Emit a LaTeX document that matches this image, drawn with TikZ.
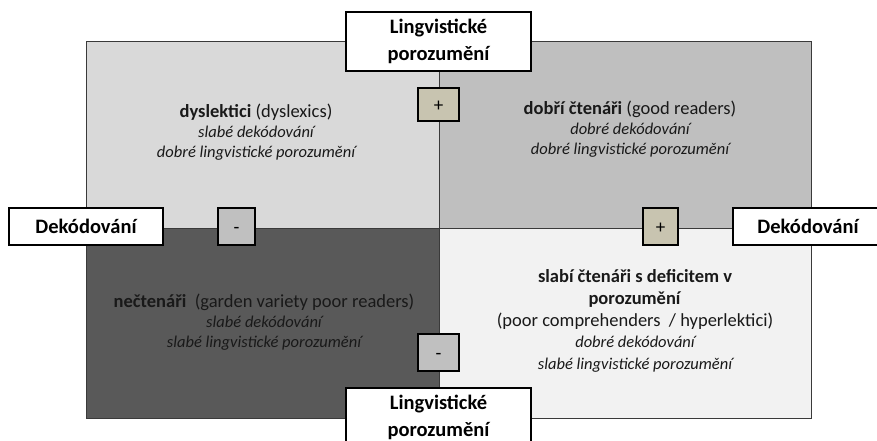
\documentclass[tikz,border=0pt]{standalone}
\usepackage{fontspec}
\setmainfont{Carlito}
\definecolor{qtl}{HTML}{D9D9D9}
\definecolor{qtr}{HTML}{BFBFBF}
\definecolor{qbl}{HTML}{595959}
\definecolor{qbr}{HTML}{F2F2F2}
\definecolor{tan}{HTML}{C8C4B0}
\definecolor{signgray}{HTML}{C0C0C0}
\definecolor{qline}{HTML}{3A3A3A}
\newcommand{\itl}[1]{{\fontsize{16.5}{20}\selectfont\itshape #1}}
\begin{document}
\begin{tikzpicture}[x=1pt,y=-1pt,
  quad/.style={draw=qline, line width=1pt, anchor=north west, inner sep=0pt},
  axislabel/.style={draw=black, line width=1.6pt, fill=white, inner sep=0pt,
    font=\bfseries\fontsize{20.5}{27}\selectfont, align=center},
  signbox/.style={draw=black, line width=1.6pt, inner sep=0pt,
    text height=1.3em, text depth=0pt, font=\fontsize{19}{20}\selectfont},
  qtext/.style={align=center, font=\fontsize{18.5}{20}\selectfont, text=black!90}
]
\useasboundingbox (0,0) rectangle (877,441);
% quadrants
\node[quad, fill=qtl, minimum width=353pt, minimum height=187pt] (tl) at (86,41) {};
\node[quad, fill=qtr, minimum width=372pt, minimum height=187pt] (tr) at (439,41) {};
\node[quad, fill=qbl, minimum width=353pt, minimum height=190pt] (bl) at (86,228) {};
\node[quad, fill=qbr, minimum width=372pt, minimum height=190pt] (br) at (439,228) {};
% quadrant texts
\node[qtext] (tltext) at (256,132) {\textbf{dyslektici} (dyslexics)\\
  \itl{slabé dekódování}\\
  \itl{dobré lingvistické porozumění}};
\node[qtext] (trtext) at (630,129) {\textbf{dobří čtenáři} (good readers)\\
  \itl{dobré dekódování}\\
  \itl{dobré lingvistické porozumění}};
\node[qtext] (bltext) at (264,322) {\textbf{nečtenáři}\ \ (garden variety poor readers)\\
  \itl{slabé dekódování}\\
  \itl{slabé lingvistické porozumění}};
\node[qtext, font=\fontsize{18.5}{21.7}\selectfont] (brtext) at (635,321) {\textbf{slabí čtenáři s deficitem v}\\
  \textbf{porozumění}\\
  (poor comprehenders\ \ / hyperlektici)\\
  \itl{dobré dekódování}\\
  \itl{slabé lingvistické porozumění}};
% axis labels
\node[axislabel, minimum width=185pt, minimum height=59pt] (lingtop) at (438.5,41.5) {Lingvistické\\porozumění};
\node[axislabel, minimum width=185pt, minimum height=59pt] (lingbot) at (438.5,417.5) {Lingvistické\\porozumění};
\node[axislabel, minimum width=154pt, minimum height=37pt] (dekleft) at (86,226.5) {Dekódování};
\node[axislabel, minimum width=150pt, minimum height=37pt] (dekright) at (808,226.5) {Dekódování};
% sign boxes
\node[signbox, fill=tan, minimum width=41pt, minimum height=33pt] (plustop) at (438.5,104.5) {+};
\node[signbox, fill=signgray, minimum width=37pt, minimum height=37pt] (minusleft) at (236.5,226.5) {-};
\node[signbox, fill=tan, minimum width=35pt, minimum height=37pt] (plusright) at (660.5,226.5) {+};
\node[signbox, fill=signgray, minimum width=41pt, minimum height=37pt] (minusbot) at (438.5,352.5) {-};
\end{tikzpicture}
\end{document}
